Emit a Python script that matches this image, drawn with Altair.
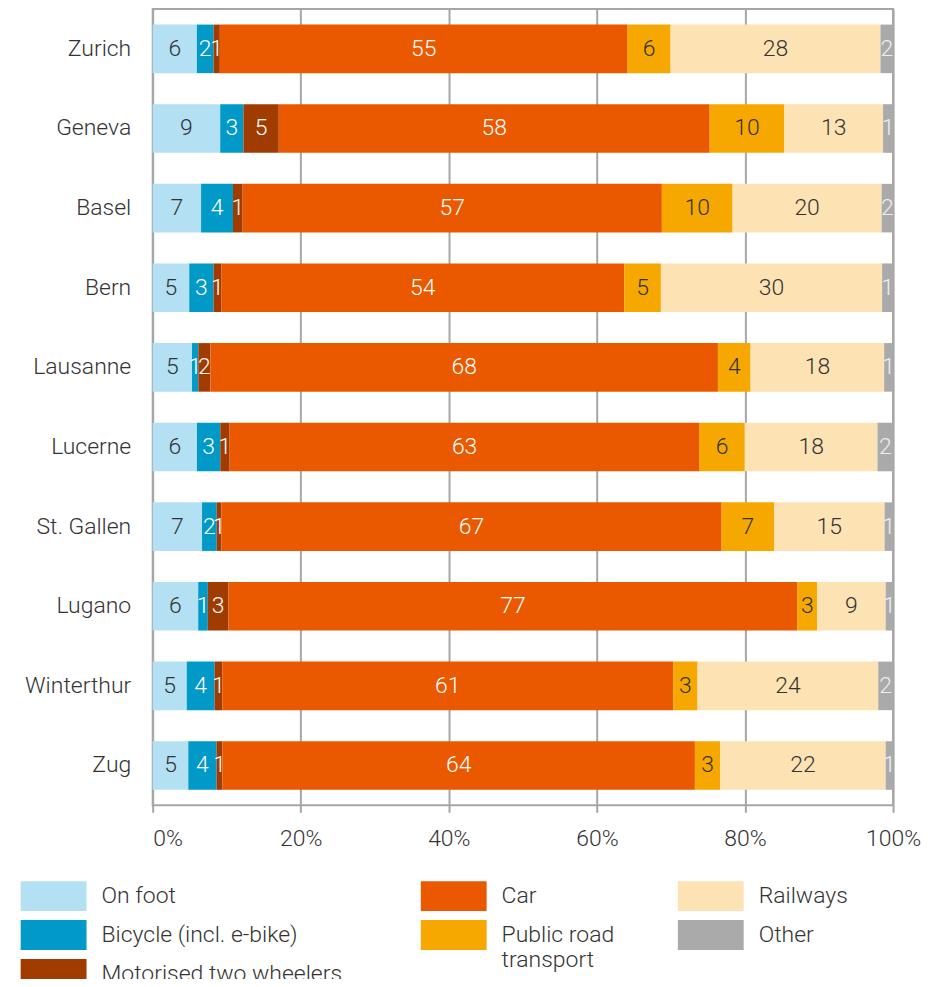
import altair as alt
import pandas as pd

cities = ["Zurich", "Geneva", "Basel", "Bern", "Lausanne", "Lucerne",
          "St. Gallen", "Lugano", "Winterthur", "Zug"]
modes = ["On foot", "Bicycle (incl. e-bike)", "Motorised two wheelers", "Car",
         "Public road transport", "Railways", "Other"]

on_foot   = [5.97, 9.12, 6.55, 4.94, 5.30, 5.97, 6.65, 6.15, 4.60, 4.80]
bicycle   = [2.25, 3.14, 4.32, 3.28, 0.85, 3.15, 1.98, 1.30, 3.77, 3.80]
motorised = [0.85, 4.77, 1.30, 1.03, 1.62, 1.26, 0.62, 2.79, 1.03, 0.80]
car       = [55.08, 58.20, 56.74, 54.45, 68.40, 63.40, 67.40, 76.86, 60.87, 63.65]
public_rd = [5.80, 10.07, 9.57, 4.94, 4.40, 6.10, 7.06, 2.66, 3.30, 3.40]
railways  = [28.35, 13.35, 20.17, 29.88, 18.00, 17.90, 14.90, 9.25, 24.40, 22.30]
other     = [1.70, 1.35, 1.55, 1.48, 1.20, 2.10, 1.14, 1.00, 2.00, 1.00]

series = [on_foot, bicycle, motorised, car, public_rd, railways, other]

colors = ["#b3e0f2", "#0099c8", "#a03c00", "#ea5900", "#f6a800", "#fde2b4", "#aaaaaa"]
text_colors = ["#333333", "#ffffff", "#ffffff", "#ffffff", "#333333", "#333333", "#eeeeee"]

# legend columns (as in the reference)
legend_cols = [modes[0:3], modes[3:5], modes[5:7]]

rows = []
for mi, (m, vals) in enumerate(zip(modes, series)):
    for c, v in zip(cities, vals):
        rows.append({"city": c, "mode": m, "value": v, "ord": mi, "tc": text_colors[mi]})
df = pd.DataFrame(rows)

FONT = "Roboto"
TXT = "#333333"


def legend_for(vals, lx):
    return alt.Legend(
        orient="none", legendX=lx, legendY=874, direction="vertical",
        values=vals, rowPadding=9, padding=0,
        symbolType="M-2.2,-1H2.2V1H-2.2Z", symbolSize=900,
        symbolStrokeWidth=0, symbolOpacity=1,
        labelFontSize=23, labelFont=FONT, labelFontWeight=300,
        labelColor=TXT, labelOffset=33, labelLimit=400, title=None,
        labelExpr="datum.label == 'Public road transport' ? ['Public road', 'transport'] : datum.label")


def color_enc(vals, lx):
    return alt.Color("mode:N", scale=alt.Scale(domain=modes, range=colors),
                     legend=legend_for(vals, lx))


base = alt.Chart(df).transform_stack(
    stack="value", as_=["x0", "x1"], groupby=["city"],
    sort=[alt.SortField("ord", order="ascending")], offset="normalize"
).transform_calculate(mid="(datum.x0 + datum.x1) / 2")

yenc = alt.Y("city:N", sort=cities, title=None,
             scale=alt.Scale(paddingInner=0.39, paddingOuter=0.195),
             axis=alt.Axis(ticks=False, domain=False, labelPadding=22,
                           labelFontSize=23, labelFont=FONT, labelFontWeight=300,
                           labelColor=TXT))

bars = base.mark_bar(strokeWidth=0).encode(
    x=alt.X("x0:Q", title=None, scale=alt.Scale(domain=[0, 1], nice=False),
            axis=alt.Axis(values=[0, 0.2, 0.4, 0.6, 0.8, 1.0], format=".0%",
                          grid=True, gridColor="#a6a6a6", gridWidth=2,
                          domain=False, ticks=True, tickColor="#a6a6a6",
                          tickWidth=2, tickSize=7, labelPadding=15,
                          labelAlign=alt.condition("datum.value == 0",
                                                   alt.value("left"),
                                                   alt.value("center")),
                          labelFontSize=23, labelFont=FONT, labelFontWeight=300,
                          labelColor=TXT, labelFlush=False)),
    x2="x1:Q",
    y=yenc,
    color=color_enc(legend_cols[0], -114.3),
)

legend2 = alt.Chart(df).transform_filter("false").mark_bar().encode(
    color=color_enc(legend_cols[1], 286.7))
legend3 = alt.Chart(df).transform_filter("false").mark_bar().encode(
    color=color_enc(legend_cols[2], 544.3))

labels = base.mark_text(fontSize=23, font=FONT, fontWeight=300,
                        align="center", baseline="middle").encode(
    x=alt.X("mid:Q"),
    y=alt.Y("city:N", sort=cities),
    text=alt.Text("value:Q", format=".0f"),
    color=alt.Color("tc:N", scale=None),
)

chart = alt.layer(bars, labels, legend2, legend3).resolve_scale(
    color="independent"
).properties(
    width=742, height=798,
    autosize=alt.AutoSizeParams(type="none"),
    padding={"left": 145, "top": 0, "right": 30, "bottom": 173},
).configure_view(
    fill="#efefef", stroke="#a6a6a6", strokeWidth=2
)

chart.save("out.html", embed_options={"renderer": "svg", "actions": False})
